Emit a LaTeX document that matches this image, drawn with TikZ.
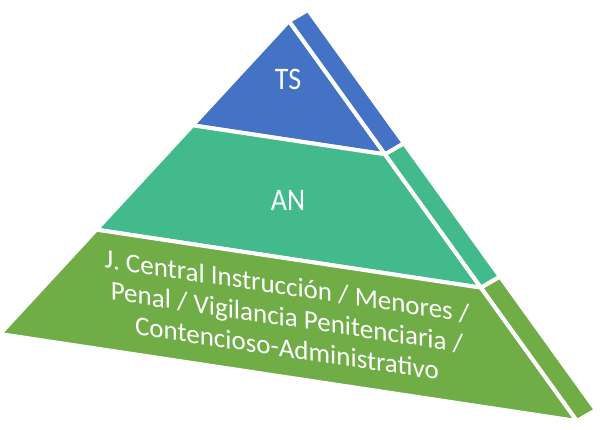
\documentclass[tikz,border=0pt]{standalone}
\usepackage{fontspec}
\setmainfont{Carlito}
\usetikzlibrary{calc}
\definecolor{tsblue}{RGB}{68,114,196}
\definecolor{anteal}{RGB}{66,186,140}
\definecolor{jgreen}{RGB}{112,173,71}
\tikzset{
  layer/.style={draw=white, line width=4pt, line join=miter},
  lbl/.style={text=white, align=center, inner sep=0pt,
    font=\fontsize{28}{34}\selectfont}
}

\begin{document}
\begin{tikzpicture}[x=1pt, y=-1pt]
  \useasboundingbox (0,0) rectangle (600,430);

  % Corners of the pyramid
  \coordinate (apex) at (289,21);
  \coordinate (bl) at (0,334);
  \coordinate (br) at (577,421);
  \coordinate (d) at (19,-11);

  % Cuts between the levels
  \coordinate (l1) at ($(apex)!1/3!(bl)$);
  \coordinate (r1) at ($(apex)!1/3!(br)$);
  \coordinate (l2) at ($(apex)!2/3!(bl)$);
  \coordinate (r2) at ($(apex)!2/3!(br)$);

  % Front faces
  \path[layer, fill=tsblue] (apex) -- (l1) -- (r1) -- cycle;
  \path[layer, fill=anteal] (l1) -- (l2) -- (r2) -- (r1) -- cycle;
  \path[layer, fill=jgreen] (l2) -- (bl) -- (br) -- (r2) -- cycle;

  % Side faces
  \path[layer, fill=tsblue] (apex) -- ($(apex)+(d)$) -- ($(r1)+(d)$) -- (r1) -- cycle;
  \path[layer, fill=anteal] (r1) -- ($(r1)+(d)$) -- ($(r2)+(d)$) -- (r2) -- cycle;
  \path[layer, fill=jgreen] (r2) -- ($(r2)+(d)$) -- ($(br)+(d)$) -- (br) -- cycle;

  % Labels
  \node[lbl, yscale=1.12] (ts) at (288,79) {TS};
  \node[lbl, yscale=1.12] (an) at (288,200) {AN};
  \node[lbl, yslant=-0.15, font=\fontsize{27}{31}\selectfont] (jc) at (287,317)
    {J. Central Instrucción / Menores /\\ Penal / Vigilancia Penitenciaria /\\ Contencioso-Administrativo};
\end{tikzpicture}
\end{document}
